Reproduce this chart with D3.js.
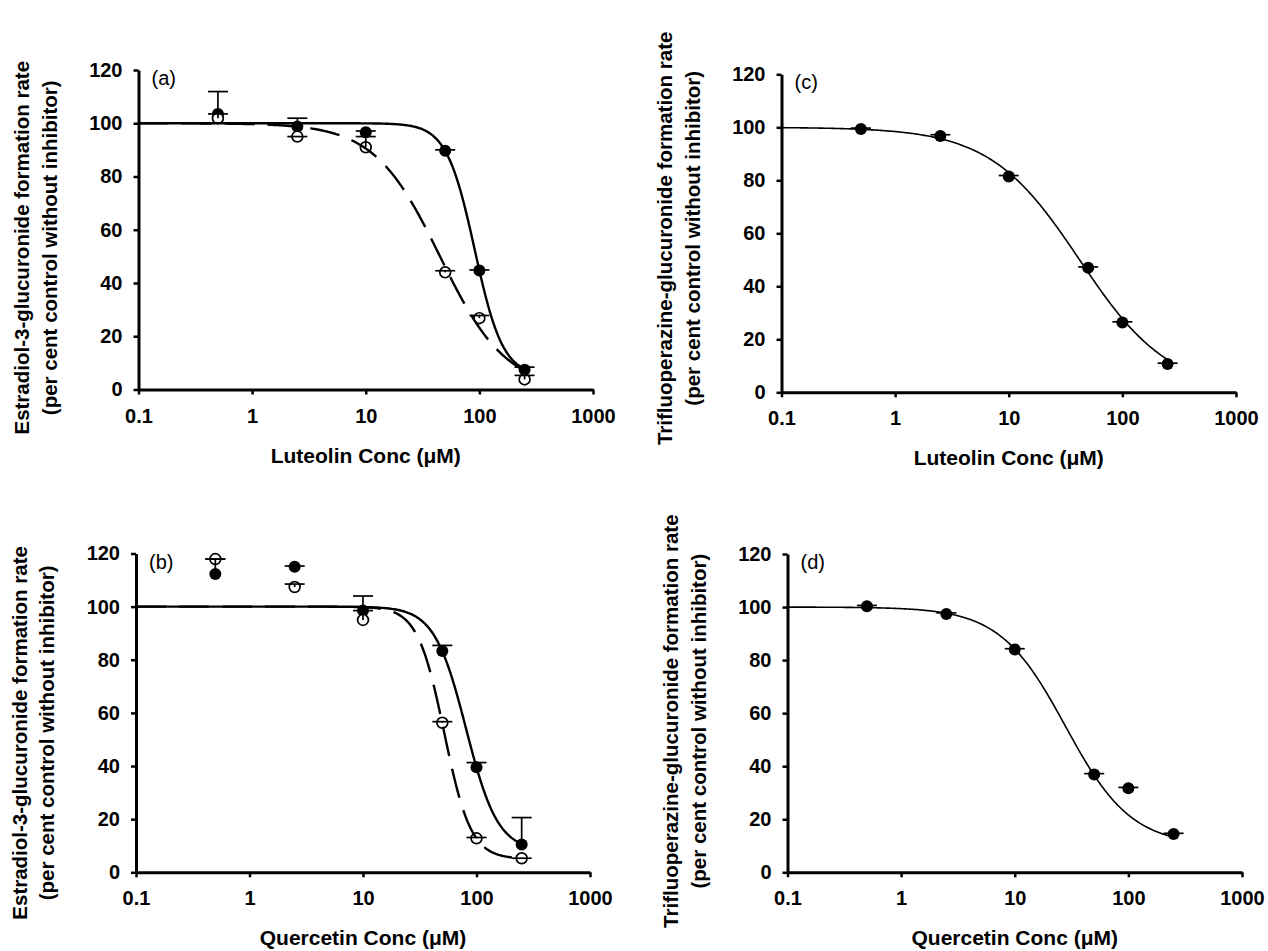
<!DOCTYPE html>
<html>
<head>
<meta charset="utf-8">
<script src="https://cdn.jsdelivr.net/npm/d3@7"></script>
<style>
  body { margin: 0; background: #fff; }
  svg { display: block; font-family: "Liberation Sans", Arial, sans-serif; }
</style>
</head>
<body>
<svg id="chart" width="1268" height="951"></svg>
<script>
"use strict"

// inhibitor concentrations (uM)
const concs = [0.5, 2.5, 10, 50, 100, 250]
const xTicks = [0.1, 1, 10, 100, 1000]
const yTicks = [0, 20, 40, 60, 80, 100, 120]

// (a) luteolin, estradiol-3-glucuronide
const lutE3gFilled = [103.5, 98.8, 96.6, 89.7, 44.7, 7.4]
const lutE3gFilledErr = [8.4, 3.1, 0.5, 0.3, 0.2, 1.0]
const lutE3gOpen = [101.9, 95.0, 91.0, 44.0, 26.8, 3.8]
const lutE3gOpenErr = [1.6, 0, 4.0, 0.6, 1.0, 1.5]

// (b) quercetin, estradiol-3-glucuronide
const queE3gFilled = [112.3, 115.0, 98.5, 83.3, 39.5, 10.5]
const queE3gFilledErr = [5.6, 0.3, 5.5, 2.1, 1.8, 10.1]
const queE3gOpen = [117.9, 107.4, 95.0, 56.3, 12.8, 5.3]
const queE3gOpenErr = [0, 1.1, 3.5, 0.4, 0.3, 0]

// (c) luteolin, trifluoperazine-glucuronide
const lutTfp = [99.4, 96.7, 81.4, 47.0, 26.3, 10.7]
const lutTfpErr = [0.3, 0.5, 0.4, 0.3, 0.3, 0.3]

// (d) quercetin, trifluoperazine-glucuronide
const queTfp = [100.3, 97.4, 84.0, 36.9, 31.7, 14.4]
const queTfpErr = [0.3, 0.4, 0.3, 0.3, 0.3, 0.3]

// fitted inhibition curves: [IC50, hill slope, bottom]
const fitLutE3gFilled = [91, 3.5, 5]
const fitLutE3gOpen = [45, 1.5, 0]
const fitQueE3gFilled = [81, 3.1, 8]
const fitQueE3gOpen = [52, 3.7, 5]
const fitLutTfp = [42, 1.1, 0]
const fitQueTfp = [28, 1.5, 10]

const e3gTitle = ["Estradiol-3-glucuronide formation rate", "(per cent control without inhibitor)"]
const tfpTitle = ["Trifluoperazine-glucuronide formation rate", "(per cent control without inhibitor)"]

const panels = [
  { label: "(a)", left: 138.5, right: 593, top: 70, bottom: 389.5, xTitle: "Luteolin Conc (\u03bcM)", yTitle: e3gTitle, yTitleShift: 18,
    series: [
      { values: lutE3gFilled, errs: lutE3gFilledErr, filled: true, fit: fitLutE3gFilled, dashed: false },
      { values: lutE3gOpen, errs: lutE3gOpenErr, filled: false, fit: fitLutE3gOpen, dashed: true } ] },
  { label: "(b)", left: 136, right: 590, top: 553.5, bottom: 872.3, xTitle: "Quercetin Conc (\u03bcM)", yTitle: e3gTitle, yTitleShift: 20,
    series: [
      { values: queE3gFilled, errs: queE3gFilledErr, filled: true, fit: fitQueE3gFilled, dashed: false },
      { values: queE3gOpen, errs: queE3gOpenErr, filled: false, fit: fitQueE3gOpen, dashed: true } ] },
  { label: "(c)", left: 781.5, right: 1236, top: 74.3, bottom: 392.3, xTitle: "Luteolin Conc (\u03bcM)", yTitle: tfpTitle, yTitleShift: 5, thin: true,
    series: [
      { values: lutTfp, errs: lutTfpErr, filled: true, fit: fitLutTfp, dashed: false } ] },
  { label: "(d)", left: 787.5, right: 1242, top: 554, bottom: 872.3, xTitle: "Quercetin Conc (\u03bcM)", yTitle: tfpTitle, yTitleShift: 8, thin: true,
    series: [
      { values: queTfp, errs: queTfpErr, filled: true, fit: fitQueTfp, dashed: false } ] }
]

const svg = d3.select("#chart")

function hill(fit, c) {
  const [ic50, n, bottom] = fit
  return bottom + (100 - bottom) / (1 + Math.pow(c / ic50, n))
}

// sample the fitted model along a log axis from 0.1 to the top concentration
const curveConcs = d3.range(0, 301).map((i) => Math.pow(10, -1 + i * (Math.log10(250) + 1) / 300))

function drawPanel(p) {
  const x = d3.scaleLog().domain([0.1, 1000]).range([p.left, p.right])
  const y = d3.scaleLinear().domain([0, 120]).range([p.bottom, p.top])
  const g = svg.append("g").attr("class", "panel")

  const xAxis = g.append("g")
    .attr("transform", `translate(0,${p.bottom})`)
    .call(d3.axisBottom(x).tickValues(xTicks).tickFormat(d3.format("~g")).tickSize(5).tickSizeOuter(0).tickPadding(14))
  const yAxis = g.append("g")
    .attr("transform", `translate(${p.left},0)`)
    .call(d3.axisLeft(y).tickValues(yTicks).tickSize(5).tickSizeOuter(0).tickPadding(11))

  for (let ax of [xAxis, yAxis]) {
    ax.select(".domain").attr("stroke-width", 3)
    ax.selectAll(".tick line").attr("stroke-width", 2.5)
    ax.selectAll(".tick text")
      .attr("font-size", 20)
      .attr("font-weight", "bold")
      .attr("font-family", "'Liberation Sans', Arial, sans-serif")
      .attr("fill", "#000")
  }

  g.append("text")
    .attr("x", (p.left + p.right) / 2)
    .attr("y", p.bottom + 73)
    .attr("text-anchor", "middle")
    .attr("font-size", 21)
    .attr("font-weight", "bold")
    .text(p.xTitle)

  const cy = (p.top + p.bottom) / 2 + p.yTitleShift
  p.yTitle.forEach((line, i) => {
    const tx = p.left - 109.5 + i * 27.5
    g.append("text")
      .attr("transform", `translate(${tx},${cy}) rotate(-90)`)
      .attr("text-anchor", "middle")
      .attr("font-size", 20.5)
      .attr("font-weight", "bold")
      .text(line)
  })

  g.append("text")
    .attr("x", p.left + 13)
    .attr("y", p.top + 15)
    .attr("font-size", 20)
    .text(p.label)

  // filled markers first, open (white) ones over them
  const ordered = p.series.slice().sort((a, b) => (b.filled ? 1 : 0) - (a.filled ? 1 : 0))
  for (let s of ordered) {
    g.append("g")
      .selectAll("circle")
      .data(concs.map((c, i) => ({ c, v: s.values[i] })))
      .enter()
        .append("circle")
        .attr("cx", (d) => x(d.c))
        .attr("cy", (d) => y(d.v))
        .attr("r", s.filled ? 6 : 5.4)
        .attr("fill", s.filled ? "#000" : "#fff")
        .attr("stroke", "#000")
        .attr("stroke-width", s.filled ? 0 : 1.7)
  }

  const line = d3.line().x((c) => x(c))
  for (let s of p.series) {
    g.append("path")
      .attr("d", line.y((c) => y(hill(s.fit, c)))(curveConcs))
      .attr("fill", "none")
      .attr("stroke", "#000")
      .attr("stroke-width", p.thin ? 1.6 : 2.4)
      .attr("stroke-dasharray", s.dashed ? "30,13" : null)
  }

  // upper error bars with caps
  for (let s of p.series) {
    const bars = g.append("g")
      .selectAll("g")
      .data(concs.map((c, i) => ({ c, v: s.values[i], e: s.errs[i] })))
      .enter()
        .append("g")
        .attr("stroke", "#000")
        .attr("stroke-width", 1.7)
    bars.append("line")
      .attr("x1", (d) => x(d.c)).attr("x2", (d) => x(d.c))
      .attr("y1", (d) => y(d.v)).attr("y2", (d) => y(d.v + d.e))
    bars.append("line")
      .attr("x1", (d) => x(d.c) - 10).attr("x2", (d) => x(d.c) + 10)
      .attr("y1", (d) => y(d.v + d.e)).attr("y2", (d) => y(d.v + d.e))
  }
}

panels.forEach(drawPanel)
</script>
</body>
</html>
